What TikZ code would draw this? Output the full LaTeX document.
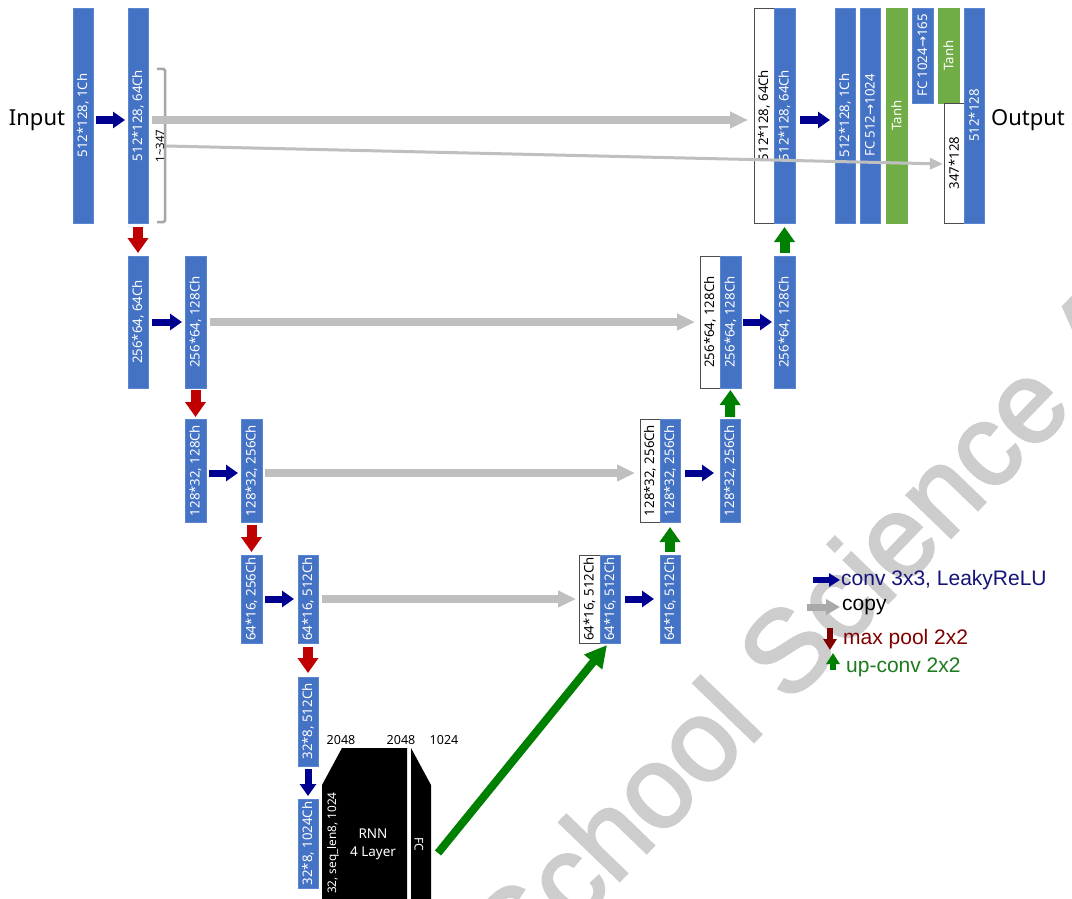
\documentclass[tikz,border=0pt]{standalone}
\usepackage{fontspec}
\setmainfont{Noto Sans}
\newfontfamily\lfont{Liberation Sans}
\newfontfamily\wmfont[FakeBold=2.2]{Liberation Sans}
\newfontfamily\dvfont{DejaVu Sans}
\usetikzlibrary{arrows.meta}
\definecolor{ublue}{HTML}{4472C4}
\definecolor{ubord}{HTML}{5A86D0}
\definecolor{ugreen}{HTML}{70AD47}
\definecolor{unavy}{HTML}{000090}
\definecolor{ured}{HTML}{C00000}
\definecolor{ugarr}{HTML}{008000}
\definecolor{ugray}{HTML}{BFBFBF}
\definecolor{ulgray}{HTML}{A9A9A9}
\definecolor{udred}{HTML}{800000}
\definecolor{ulgreen}{HTML}{1E7B1E}
\definecolor{ulnavy}{HTML}{14147A}
\definecolor{uwm}{HTML}{CDCDCD}
\newcommand\ra{{\dvfont\char"2192}}
\newcommand\ubox[7]{%
  \pgfmathsetmacro\ucx{(#3+#5)/2}\pgfmathsetmacro\ucy{(#4+#6)/2}%
  \pgfmathsetmacro\uw{#5-#3}\pgfmathsetmacro\uh{#6-#4}%
  \node[#1, minimum width=\uw pt, minimum height=\uh pt] (#2) at (\ucx,\ucy) {\rotatebox{90}{#7}};}
\begin{document}
\begin{tikzpicture}[x=1pt,y=-1pt,
  boxbase/.style={inner sep=0pt, outer sep=0pt, line width=0.6pt, font=\fontsize{13.2}{15}\selectfont},
  bluebox/.style={boxbase, fill=ublue, draw=ubord, text=white},
  whitebox/.style={boxbase, fill=white, draw=black!70, text=black},
  greenbox/.style={boxbase, fill=ugreen, draw=ugreen, text=white},
  convarr/.style={draw=unavy, line width=7pt, -{Triangle[length=12pt,width=16pt]}},
  poolarr/.style={draw=ured, line width=10pt, -{Triangle[length=15pt,width=20pt]}},
  uparr/.style={draw=ugarr, line width=10pt, -{Triangle[length=15pt,width=20pt]}},
  copyarr/.style={draw=ugray, line width=8pt, -{Triangle[length=18pt,width=16pt]}},
  thinarr/.style={draw=ugray, line width=3pt, -{Triangle[length=13pt,width=11pt]}},
  bigarr/.style={draw=ugarr, line width=8pt, -{Triangle[length=22pt,width=22pt]}},
  legtext/.style={anchor=west, inner sep=0pt, font=\lfont\fontsize{21}{24}\selectfont},
  small/.style={inner sep=0pt, font=\fontsize{12.5}{14}\selectfont}
]
\useasboundingbox (0,0) rectangle (1072,899);
\fill[white] (0,0) rectangle (1072,899);
% watermark
\begin{scope}
\clip (0,0) rectangle (1072,899);
\node[anchor=base west, rotate=46, inner sep=0pt, text=uwm, font=\wmfont\fontsize{116}{120}\selectfont] (wm) at (520,984) {School Science A};
\end{scope}

% ---- boxes, top level
\ubox{bluebox}{in0}{73}{8}{93}{223}{512*128, 1Ch}
\ubox{bluebox}{e1}{128}{8}{148}{223}{512*128, 64Ch}
\ubox{whitebox}{d1w}{754}{8}{774}{223}{512*128, 64Ch}
\ubox{bluebox}{d1b}{774}{8}{795}{223}{512*128, 64Ch}
\ubox{bluebox}{o1}{835}{8}{855}{223}{512*128, 1Ch}
\ubox{bluebox}{fc1}{860}{8}{880}{223}{FC 512\ra1024}
\ubox{greenbox}{th1}{886}{8}{907}{223}{Tanh}
\ubox{bluebox}{fc2}{912}{8}{933}{103}{FC 1024\ra165}
\ubox{greenbox}{th2}{938}{8}{959}{103}{Tanh}
\ubox{whitebox}{cw}{944}{103}{964}{223}{347*128}
\ubox{bluebox}{out}{964}{8}{984}{223}{512*128}
% level 2
\ubox{bluebox}{e2a}{128}{256}{148}{388}{256*64, 64Ch}
\ubox{bluebox}{e2b}{185}{256}{206}{388}{256*64, 128Ch}
\ubox{whitebox}{d2w}{700}{256}{720}{388}{256*64, 128Ch}
\ubox{bluebox}{d2b}{720}{256}{741}{388}{256*64, 128Ch}
\ubox{bluebox}{d2c}{774}{256}{795}{388}{256*64, 128Ch}
% level 3
\ubox{bluebox}{e3a}{185}{419}{206}{522}{128*32, 128Ch}
\ubox{bluebox}{e3b}{241}{419}{262}{522}{128*32, 256Ch}
\ubox{whitebox}{d3w}{640}{419}{660}{522}{128*32, 256Ch}
\ubox{bluebox}{d3b}{660}{419}{680}{522}{128*32, 256Ch}
\ubox{bluebox}{d3c}{720}{419}{740}{522}{128*32, 256Ch}
% level 4
\ubox{bluebox}{e4a}{241}{555}{262}{643}{64*16, 256Ch}
\ubox{bluebox}{e4b}{298}{555}{318}{643}{64*16, 512Ch}
\ubox{whitebox}{d4w}{579}{555}{600}{643}{64*16, 512Ch}
\ubox{bluebox}{d4b}{600}{555}{620}{643}{64*16, 512Ch}
\ubox{bluebox}{d4c}{660}{555}{680}{643}{64*16, 512Ch}
% level 5
\ubox{bluebox}{e5}{298}{677}{318}{766}{32*8, 512Ch}
\ubox{bluebox}{e6}{298}{799}{318}{888}{32*8, 1024Ch}

% Input / Output
\node[inner sep=0pt, font=\fontsize{22}{24}\selectfont] (inp) at (37,120) {Input};
\node[inner sep=0pt, font=\fontsize{22}{24}\selectfont] (outp) at (1028,120) {Output};

% bracket 1~347
\draw[draw=black!35, line width=2.5pt, rounded corners=1.5pt] (157,69) -- (165,69) -- (165,222) -- (157,222);
\node[small, rotate=90, font=\fontsize{11.5}{13}\selectfont] (rng) at (160,146) {1\textasciitilde347};
\coordinate (br) at (166,146);

% RNN block
\fill[black] (322,899) -- (322,785) -- (342,748) -- (407,748) -- (407,899) -- cycle;
\fill[black] (411,899) -- (411,748) -- (431,785) -- (431,899) -- cycle;
\coordinate (fcout) at (438,853);
\node[small] (n2048a) at (341,740) {2048};
\node[small] (n2048b) at (401,740) {2048};
\node[small] (n1024) at (444,740) {1024};
\node[small, rotate=90, text=white, font=\fontsize{11.8}{13}\selectfont] (seq) at (333,843) {32, seq\_len8, 1024};
\node[small, text=white, align=center, font=\fontsize{13.5}{18}\selectfont] (rnn) at (373,844) {RNN\\4 Layer};
\node[small, rotate=-90, text=white, font=\fontsize{12}{14}\selectfont] (fc) at (419,844) {FC};

% conv arrows
\draw[convarr, shorten <=3pt, shorten >=3pt] ([yshift=-4.5pt]in0.east) -- ([yshift=-4.5pt]e1.west);
\draw[convarr, shorten <=4pt, shorten >=3pt] (e2a.east) -- (e2b.west);
\draw[convarr, shorten <=3pt, shorten >=3pt] ([yshift=-2.5pt]e3a.east) -- ([yshift=-2.5pt]e3b.west);
\draw[convarr, shorten <=3pt, shorten >=4pt] (e4a.east) -- (e4b.west);
\draw[convarr, shorten <=5pt, shorten >=5pt] ([yshift=-4.5pt]d1b.east) -- ([yshift=-4.5pt]o1.west);
\draw[convarr, shorten <=2pt, shorten >=2pt] (d2b.east) -- (d2c.west);
\draw[convarr, shorten <=5pt, shorten >=6pt] ([yshift=-2.5pt]d3b.east) -- ([yshift=-2.5pt]d3c.west);
\draw[convarr, shorten <=5pt, shorten >=6pt] (d4b.east) -- (d4c.west);
\draw[convarr, shorten <=3pt, shorten >=3pt] (e5.south) -- (e6.north);
% pool arrows
\draw[poolarr, shorten <=4pt, shorten >=3pt] (e1.south) -- (e2a.north);
\draw[poolarr, shorten <=2pt, shorten >=2pt] (e2b.south) -- (e3a.north);
\draw[poolarr, shorten <=3pt, shorten >=3pt] (e3b.south) -- (e4a.north);
\draw[poolarr, shorten <=4pt, shorten >=4pt] (e4b.south) -- (e5.north);
% up arrows
\draw[uparr, shorten <=3pt, shorten >=5pt] (d4c.north) -- (d3b.south);
\draw[uparr, shorten <=2pt, shorten >=2pt] (d3c.north) -- (d2b.south);
\draw[uparr, shorten <=3pt, shorten >=4pt] (d2c.north) -- (d1b.south);
% copy arrows
\draw[copyarr, shorten <=4pt, shorten >=6pt] ([yshift=-4.5pt]e1.east) -- ([yshift=-4.5pt]d1w.west);
\draw[copyarr, shorten <=4pt, shorten >=5pt] (e2b.east) -- (d2w.west);
\draw[copyarr, shorten <=3pt, shorten >=5pt] ([yshift=-2.5pt]e3b.east) -- ([yshift=-2.5pt]d3w.west);
\draw[copyarr, shorten <=4pt, shorten >=3pt] (e4b.east) -- (d4w.west);
\draw[thinarr, shorten >=1pt] (br) -- ([yshift=-1pt]cw.west);
% big green arrow
\draw[bigarr] (fcout) -- ([xshift=7pt,yshift=-2pt]d4b.south west);

% legend
\coordinate (l1a) at (813,580); \coordinate (l1b) at (840,580);
\coordinate (l2a) at (807,607); \coordinate (l2b) at (840,607);
\coordinate (l3a) at (830,628); \coordinate (l3b) at (830,650);
\coordinate (l4a) at (833,670); \coordinate (l4b) at (833,653);
\draw[draw=unavy, line width=6pt, -{Triangle[length=11pt,width=13pt]}] (l1a) -- (l1b);
\draw[draw=ulgray, line width=7pt, -{Triangle[length=14pt,width=15pt]}] (l2a) -- (l2b);
\draw[draw=udred, line width=6pt, -{Triangle[length=11pt,width=13pt]}] (l3a) -- (l3b);
\draw[draw=ugarr, line width=6pt, -{Triangle[length=11pt,width=13pt]}] (l4a) -- (l4b);
\node[legtext, text=ulnavy] (lt1) at (841,580) {conv 3x3, LeakyReLU};
\node[legtext, text=black] (lt2) at (842,607) {copy};
\node[legtext, text=udred] (lt3) at (843,639) {max pool 2x2};
\node[legtext, text=ulgreen] (lt4) at (846,667) {up-conv 2x2};
\end{tikzpicture}
\end{document}
